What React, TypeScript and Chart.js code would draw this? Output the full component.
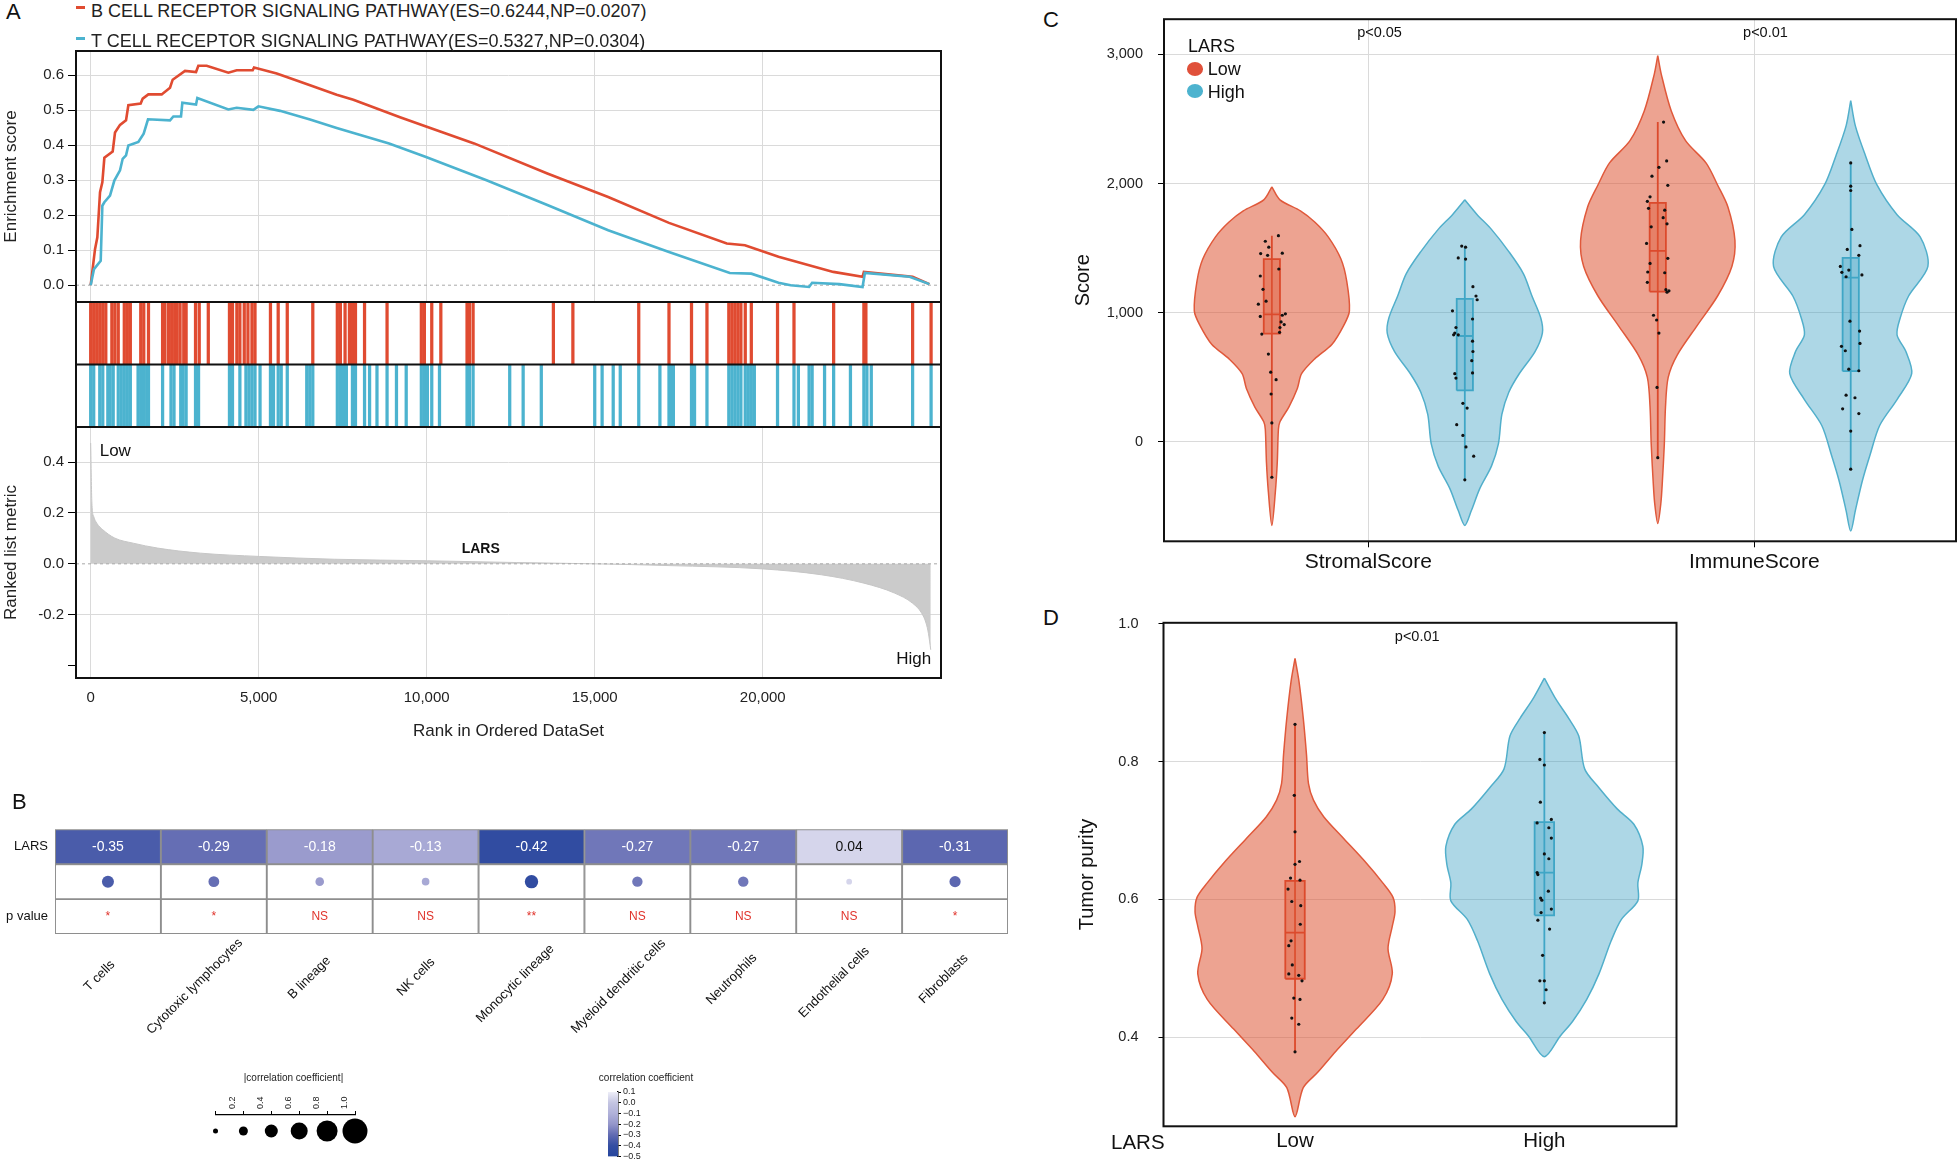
import React, { useEffect, useRef } from "react";
import { Chart, registerables } from "chart.js";

Chart.register(...registerables);

const FONT = "'Liberation Sans', Arial, Helvetica, sans-serif";
Chart.defaults.font.family = FONT;
Chart.defaults.color = "#222";

// ================= Panel A : GSEA =================
const bCellRank = [0, 129, 198, 278, 347, 407, 655, 724, 873, 1052, 1121, 1488, 1548, 1716, 2113, 2361, 2440, 2807, 3135, 3204, 3452, 4097, 4345, 4821, 4861, 5536, 5833, 6528, 7321, 7817, 9206, 9960, 11410, 13590, 15400, 17210, 18930, 19470, 20470, 22100, 22970, 23010, 23730, 24460, 24960];
const bCellES = [0, 0.103, 0.137, 0.266, 0.294, 0.364, 0.382, 0.436, 0.458, 0.471, 0.514, 0.519, 0.533, 0.545, 0.545, 0.564, 0.587, 0.612, 0.609, 0.627, 0.627, 0.607, 0.614, 0.614, 0.622, 0.605, 0.595, 0.571, 0.544, 0.53, 0.48, 0.454, 0.405, 0.319, 0.252, 0.178, 0.119, 0.114, 0.081, 0.038, 0.024, 0.038, 0.031, 0.024, 0.003];
const tCellRank = [0, 99, 298, 347, 407, 575, 704, 873, 952, 1052, 1121, 1419, 1577, 1706, 2361, 2460, 2688, 2728, 3135, 3174, 4097, 4345, 4841, 4990, 5635, 6528, 7321, 8880, 9960, 11780, 13590, 15400, 17210, 19020, 19660, 20470, 20830, 21380, 21470, 22280, 22970, 23040, 24370, 24960];
const tCellES = [0, 0.046, 0.07, 0.227, 0.237, 0.256, 0.299, 0.328, 0.361, 0.371, 0.399, 0.409, 0.433, 0.474, 0.471, 0.482, 0.482, 0.521, 0.516, 0.535, 0.502, 0.507, 0.501, 0.511, 0.498, 0.473, 0.449, 0.405, 0.367, 0.3, 0.229, 0.157, 0.095, 0.035, 0.033, 0.007, 0, -0.005, 0.007, 0.003, -0.005, 0.035, 0.024, 0.003];
const bCellHits = [0, 90, 180, 270, 360, 450, 630, 720, 820, 1000, 1090, 1180, 1490, 1580, 1720, 2140, 2210, 2320, 2410, 2500, 2570, 2660, 2770, 2840, 3120, 3230, 3500, 4130, 4220, 4350, 4440, 4570, 4680, 4800, 4890, 5350, 5580, 5850, 6610, 7340, 7430, 7570, 7700, 7790, 7880, 8150, 8820, 9840, 9930, 10150, 10420, 11200, 11270, 11380, 13770, 14350, 16310, 17210, 17880, 18340, 18990, 19080, 19170, 19260, 19350, 19480, 19660, 20440, 20930, 22110, 23010, 23070, 24460, 25010];
const tCellHits = [0, 90, 270, 360, 510, 580, 670, 820, 910, 1000, 1090, 1180, 1410, 1490, 1540, 1590, 1670, 1720, 2140, 2390, 2480, 2680, 2750, 2840, 3120, 3210, 4130, 4220, 4440, 4620, 4710, 4800, 4890, 5040, 5350, 5440, 5580, 5670, 5850, 6430, 6520, 6610, 7340, 7430, 7520, 7610, 7790, 7880, 8150, 8300, 8520, 8820, 9100, 9390, 9840, 9930, 10020, 10150, 10380, 11200, 11270, 11380, 12470, 12870, 13410, 15000, 15220, 15550, 15760, 16310, 16940, 17210, 17270, 17340, 17880, 17970, 18340, 18990, 19080, 19170, 19260, 19350, 19480, 19570, 19660, 19750, 20440, 20930, 21060, 21380, 21470, 21840, 22110, 22610, 23010, 23100, 23230, 24460, 25010];
const metricRank = [0, 36, 90, 180, 360, 720, 1270, 1990, 3260, 5020, 7250, 10020, 12680, 15000, 17210, 20000, 21740, 23010, 23920, 24460, 24730, 24860, 24930, 25000];
const metricValue = [0.475, 0.239, 0.186, 0.16, 0.134, 0.101, 0.081, 0.062, 0.042, 0.029, 0.018, 0.012, 0.005, 0, -0.007, -0.02, -0.043, -0.076, -0.115, -0.155, -0.194, -0.233, -0.273, -0.338];
const rankTicks = [0, 5000, 10000, 15000, 20000];
const esTicks = [0, 0.1, 0.2, 0.3, 0.4, 0.5, 0.6];
const metricTicks = [-0.4, -0.2, 0, 0.2, 0.4];

// ================= Panel B : correlation table =================
const cellTypes = ["T cells", "Cytotoxic lymphocytes", "B lineage", "NK cells", "Monocytic lineage", "Myeloid dendritic cells", "Neutrophils", "Endothelial cells", "Fibroblasts"];
const corrValues = [-0.35, -0.29, -0.18, -0.13, -0.42, -0.27, -0.27, 0.04, -0.31];
const pLabels = ["*", "*", "NS", "NS", "**", "NS", "NS", "NS", "*"];
const tableRows = ["p value", "", "LARS"];
const legendSizes = [0, 0.2, 0.4, 0.6, 0.8, 1.0];
const colorbarTicks = [-0.5, -0.4, -0.3, -0.2, -0.1, 0, 0.1];

// ================= Panel C : Stromal / Immune scores =================
const stromalLowY = [1974, 1874, 1788, 1702, 1587, 1415, 1244, 1014, 900, 756, 642, 527, 413, 269, 155, 97, -160, -390, -648];
const stromalLowW = [0, 0.021, 0.074, 0.111, 0.146, 0.179, 0.194, 0.201, 0.186, 0.156, 0.111, 0.077, 0.066, 0.044, 0.021, 0.017, 0.014, 0.009, 0];
const stromalHighY = [1874, 1759, 1645, 1473, 1301, 1129, 957, 842, 699, 527, 384, 212, -17, -189, -361, -533, -648];
const stromalHighW = [0, 0.032, 0.069, 0.114, 0.152, 0.174, 0.197, 0.201, 0.182, 0.141, 0.114, 0.096, 0.087, 0.069, 0.039, 0.017, 0];
const immuneLowY = [2991, 2848, 2562, 2332, 2160, 1989, 1817, 1559, 1358, 1129, 900, 670, 499, 269, -17, -304, -476, -633];
const immuneLowW = [0, 0.009, 0.035, 0.072, 0.125, 0.155, 0.182, 0.2, 0.192, 0.155, 0.102, 0.05, 0.027, 0.02, 0.017, 0.012, 0.008, 0];
const immuneHighY = [2642, 2447, 2218, 1989, 1759, 1587, 1358, 1129, 957, 828, 699, 527, 327, 126, -103, -304, -533, -691];
const immuneHighW = [0, 0.012, 0.038, 0.068, 0.12, 0.18, 0.2, 0.15, 0.128, 0.12, 0.143, 0.158, 0.12, 0.075, 0.05, 0.03, 0.012, 0];
// box stats: [lower whisker, Q1, median, Q3, upper whisker]
const stromalLowBox = [-275, 837, 986, 1415, 1596];
const stromalHighBox = [-295, 398, 819, 1106, 1516];
const immuneLowBox = [-123, 1163, 1479, 1851, 2476];
const immuneHighBox = [-212, 547, 1272, 1424, 2169];
const stromalLowJit = [0.017, -0.017, -0.008, -0.029, -0.011, 0.027, 0.018, -0.03, -0.023, -0.015, -0.035, -0.03, 0.027, 0.035, 0.024, 0.021, 0.032, -0.026, 0.02, -0.009, -0.003, 0.011, -0.002, 0, 0];
const stromalLowPts = [1596, 1553, 1507, 1458, 1444, 1461, 1338, 1284, 1181, 1089, 1066, 971, 980, 991, 928, 885, 908, 834, 848, 679, 539, 481, 370, 146, -275];
const stromalHighJit = [-0.008, 0.002, -0.017, 0.002, 0.021, 0.029, 0.032, -0.032, -0.023, -0.026, -0.029, -0.017, 0.02, 0.02, 0.021, 0.018, 0.02, -0.026, -0.023, -0.005, 0.006, -0.021, -0.005, 0.003, 0.023, 0];
const stromalHighPts = [1516, 1507, 1424, 1415, 1201, 1129, 1100, 1014, 885, 842, 828, 828, 951, 779, 699, 628, 533, 527, 493, 298, 261, 132, 49, -40, -112, -295];
const immuneLowJit = [0.015, 0.023, 0.003, -0.015, 0.026, -0.02, -0.027, -0.024, 0.018, 0.014, 0.024, -0.017, -0.029, 0.026, -0.02, -0.026, 0.018, -0.027, 0.021, 0.024, 0.029, -0.011, -0.003, 0.003, -0.002, 0];
const immuneLowPts = [2476, 2175, 2126, 2057, 1986, 1897, 1862, 1808, 1794, 1736, 1688, 1665, 1536, 1421, 1381, 1315, 1309, 1235, 1178, 1158, 1169, 980, 943, 842, 421, -123];
const immuneHighJit = [0, 0, 0, 0.003, 0.024, -0.009, 0.021, -0.027, -0.023, -0.005, -0.012, 0.029, -0.002, 0.023, 0.024, -0.024, -0.014, -0.005, 0.021, -0.012, 0.011, -0.021, 0.021, 0, 0];
const immuneHighPts = [2160, 1980, 1946, 1645, 1519, 1490, 1444, 1358, 1312, 1330, 1278, 1292, 934, 857, 762, 739, 705, 562, 550, 361, 341, 255, 218, 83, -212];
const scoreTicks = [0, 1000, 2000, 3000];

// ================= Panel D : Tumor purity =================
const purityLowY = [0.9496, 0.916, 0.863, 0.81, 0.768, 0.744, 0.72, 0.688, 0.656, 0.624, 0.603, 0.582, 0.561, 0.529, 0.492, 0.455, 0.412, 0.38, 0.349, 0.327, 0.285];
const purityLowW = [0, 0.016, 0.033, 0.046, 0.054, 0.074, 0.115, 0.196, 0.278, 0.352, 0.393, 0.401, 0.39, 0.373, 0.39, 0.352, 0.246, 0.164, 0.09, 0.033, 0];
const purityHighY = [0.921, 0.89, 0.863, 0.837, 0.789, 0.762, 0.731, 0.709, 0.677, 0.651, 0.624, 0.598, 0.571, 0.54, 0.492, 0.455, 0.423, 0.402, 0.372];
const purityHighW = [0, 0.047, 0.097, 0.138, 0.162, 0.219, 0.293, 0.359, 0.395, 0.391, 0.375, 0.375, 0.309, 0.268, 0.219, 0.17, 0.113, 0.064, 0];
const purityLowBox = [0.379, 0.485, 0.552, 0.627, 0.854];
const purityHighBox = [0.45, 0.577, 0.639, 0.712, 0.843];
const purityLowJit = [0, -0.003, 0, 0, 0.018, -0.018, 0.02, -0.028, -0.013, 0.023, 0.021, -0.016, -0.025, -0.011, -0.025, 0.015, 0.028, -0.005, 0.02, -0.013, 0.015, 0];
const purityLowPts = [0.854, 0.751, 0.698, 0.651, 0.655, 0.631, 0.628, 0.615, 0.597, 0.591, 0.564, 0.54, 0.533, 0.505, 0.492, 0.49, 0.482, 0.457, 0.455, 0.428, 0.419, 0.379];
const purityHighJit = [0, -0.018, 0, -0.016, 0.028, -0.029, 0.018, 0.028, 0, 0.018, -0.029, -0.026, 0.016, -0.015, -0.01, 0.028, -0.013, -0.026, 0.021, -0.007, -0.018, 0, 0.007, 0];
const purityHighPts = [0.842, 0.803, 0.795, 0.741, 0.716, 0.711, 0.704, 0.689, 0.666, 0.659, 0.639, 0.636, 0.612, 0.602, 0.599, 0.586, 0.581, 0.57, 0.557, 0.519, 0.482, 0.482, 0.469, 0.45];
const purityTicks = [0.4, 0.6, 0.8, 1.0];

// ================= styles =================
const RED = "#e04b31";
const BLUE = "#4cb3cf";
const GRID = "#dadada";
const RANK_MIN = -437;
const RANK_MAX = 25305;
const LOW_STYLE = { line: "#e0593b", fill: "rgba(222,88,55,0.55)", boxFill: "rgba(222,88,55,0.45)", boxLine: "#dc4a2c" };
const HIGH_STYLE = { line: "#52afcb", fill: "rgba(60,160,195,0.42)", boxFill: "rgba(60,160,195,0.35)", boxLine: "#3fa6c6" };
const corrStops: [number, number[]][] = [
  [0.1, [238, 238, 248]],
  [0, [196, 197, 226]],
  [-0.1, [176, 177, 217]],
  [-0.2, [148, 150, 202]],
  [-0.3, [96, 106, 178]],
  [-0.4, [52, 78, 162]],
  [-0.5, [38, 70, 158]],
];

function rgb(c: number[]) {
  return `rgb(${Math.round(c[0])},${Math.round(c[1])},${Math.round(c[2])})`;
}
function corrColor(v: number) {
  for (let i = 0; i < corrStops.length - 1; i++) {
    const [a, ca] = corrStops[i];
    const [b, cb] = corrStops[i + 1];
    if (v <= a && v >= b) {
      const t = (a - v) / (a - b);
      return rgb(ca.map((c, k) => c + (cb[k] - c) * t));
    }
  }
  return v > 0.1 ? rgb(corrStops[0][1]) : rgb(corrStops[corrStops.length - 1][1]);
}

const font = (size: number, weight = "normal") => `${weight} ${size}px ${FONT}`;
const pts = (xs: number[], ys: number[]) => xs.map((x, i) => ({ x, y: ys[i] }));
const fixTicks = (values: number[]) => (axis: any) => {
  axis.ticks = values.map((v) => ({ value: v }));
};
const fixWidth = (w: number) => (axis: any) => {
  axis.width = w;
};
const fixHeight = (h: number) => (axis: any) => {
  axis.height = h;
};
const baseOptions: any = { responsive: false, maintainAspectRatio: false, animation: false, events: [] };
const noLegend = { legend: { display: false }, tooltip: { enabled: false } };

// ================= plugins =================
const framePlugin = {
  id: "frame",
  afterDatasetsDraw(chart: any, _args: any, opts: any) {
    const { ctx, chartArea: a } = chart;
    ctx.save();
    ctx.strokeStyle = "#111";
    ctx.lineWidth = opts.width || 2;
    ctx.strokeRect(a.left, a.top, a.right - a.left, a.bottom - a.top);
    (opts.hLines || []).forEach((v: number) => {
      const y = chart.scales.y.getPixelForValue(v);
      ctx.beginPath();
      ctx.moveTo(a.left, y);
      ctx.lineTo(a.right, y);
      ctx.stroke();
    });
    ctx.restore();
  },
};

const textPlugin = {
  id: "texts",
  afterDatasetsDraw(chart: any, _args: any, opts: any) {
    const ctx = chart.ctx;
    (opts.items || []).forEach((it: any) => {
      const x = chart.scales.x.getPixelForValue(it.x);
      const y = chart.scales.y.getPixelForValue(it.y);
      ctx.save();
      ctx.font = it.font;
      ctx.fillStyle = it.color || "#111";
      ctx.textAlign = it.align || "center";
      ctx.textBaseline = "middle";
      ctx.fillText(it.text, x, y);
      ctx.restore();
    });
  },
};

const rotLabelPlugin = {
  id: "rotLabels",
  afterDraw(chart: any, _args: any, opts: any) {
    const { ctx, chartArea } = chart;
    const xs = chart.scales.x;
    (chart.data.labels || []).forEach((t: string, i: number) => {
      const x = xs.getPixelForValue(i) + opts.dx;
      const y = chartArea.bottom + opts.dy;
      ctx.save();
      ctx.font = opts.font;
      ctx.fillStyle = "#111";
      const w = ctx.measureText(t).width;
      ctx.translate(x, y);
      ctx.rotate((-opts.angle * Math.PI) / 180);
      ctx.textAlign = "left";
      ctx.textBaseline = "middle";
      ctx.fillText(t, -opts.frac * w, 0);
      ctx.restore();
    });
  },
};

// ================= chart configs =================
// ES plot: canvas top 30 -> chart area 51..302 (page px)
function esConfig(): any {
  const W = 960, H = 287;
  return {
    type: "line",
    data: {
      datasets: [
        { data: pts(tCellRank, tCellES), borderColor: BLUE, borderWidth: 2.6, pointRadius: 0, tension: 0, fill: false, order: 1 },
        { data: pts(bCellRank, bCellES), borderColor: RED, borderWidth: 2.6, pointRadius: 0, tension: 0, fill: false, order: 2 },
        { data: pts([RANK_MIN, RANK_MAX], [0, 0]), borderColor: "#aaaaaa", borderWidth: 1, borderDash: [3, 3], pointRadius: 0, fill: false, order: 3 },
      ],
    },
    options: {
      ...baseOptions,
      layout: { padding: { top: 21, right: W - 941, left: 0, bottom: 0 } },
      plugins: { ...noLegend, frame: { width: 2 } },
      scales: {
        x: {
          type: "linear", min: RANK_MIN, max: RANK_MAX,
          afterBuildTicks: fixTicks(rankTicks), afterFit: fixHeight(H - 272),
          ticks: { display: false }, grid: { color: GRID, drawTicks: false }, border: { display: false },
        },
        y: {
          type: "linear", min: -0.048, max: 0.669,
          afterBuildTicks: fixTicks(esTicks), afterFit: fixWidth(76),
          ticks: { callback: (v: any) => Number(v).toFixed(1), font: { size: 15 }, padding: 4, color: "#222" },
          grid: { color: (c: any) => (c.tick && Math.abs(c.tick.value) < 1e-9 ? "rgba(0,0,0,0)" : GRID), tickColor: "#000", tickLength: 8 },
          border: { display: false },
          title: { display: true, text: "Enrichment score", font: { size: 17 }, color: "#222", padding: { top: 1, bottom: 0 } },
        },
      },
    },
    plugins: [framePlugin],
  };
}

// rug: canvas top 295 -> chart area 302..427
function rugConfig(): any {
  const W = 960, H = 140;
  return {
    type: "bar",
    data: {
      datasets: [
        { data: bCellHits.map((r) => ({ x: r, y: [1, 2] })), backgroundColor: RED, barThickness: 2.6, grouped: false, borderWidth: 0 },
        { data: tCellHits.map((r) => ({ x: r, y: [0, 1] })), backgroundColor: BLUE, barThickness: 2.6, grouped: false, borderWidth: 0 },
      ],
    },
    options: {
      ...baseOptions,
      layout: { padding: { top: 7, bottom: H - 132, left: 76, right: W - 941 } },
      plugins: { ...noLegend, frame: { width: 2, hLines: [1] } },
      scales: {
        x: { type: "linear", min: RANK_MIN, max: RANK_MAX, offset: false, display: false, grid: { offset: false } },
        y: { type: "linear", min: 0, max: 2, display: false },
      },
    },
    plugins: [framePlugin],
  };
}

// metric: canvas top 410 -> chart area 427..678
function metricConfig(): any {
  const W = 960, H = 340;
  return {
    type: "line",
    data: {
      datasets: [
        { data: pts([RANK_MIN, RANK_MAX], [0, 0]), borderColor: "#a8a8a8", borderWidth: 1, borderDash: [3, 3], pointRadius: 0, fill: false, order: 1 },
        { data: pts(metricRank, metricValue), borderColor: "#c6c6c6", borderWidth: 1, backgroundColor: "#cbcbcb", fill: "origin", pointRadius: 0, cubicInterpolationMode: "monotone", order: 2 },
      ],
    },
    options: {
      ...baseOptions,
      layout: { padding: { top: 17, right: W - 941, left: 0, bottom: 0 } },
      plugins: {
        ...noLegend,
        frame: { width: 2 },
        texts: {
          items: [
            { x: 268, y: 0.441, text: "Low", font: font(17), align: "left" },
            { x: 11607, y: 0.059, text: "LARS", font: font(14, "bold") },
            { x: 25015, y: -0.374, text: "High", font: font(17), align: "right" },
          ],
        },
      },
      scales: {
        x: {
          type: "linear", min: RANK_MIN, max: RANK_MAX,
          afterBuildTicks: fixTicks(rankTicks), afterFit: fixHeight(H - 268),
          ticks: { callback: (v: any) => Number(v).toLocaleString("en-US"), font: { size: 15 }, padding: 11, color: "#222", maxRotation: 0 },
          grid: { color: GRID, drawTicks: false }, border: { display: false },
          title: { display: true, text: "Rank in Ordered DataSet", font: { size: 17 }, color: "#222", padding: { top: 0, bottom: 8 } },
        },
        y: {
          type: "linear", min: -0.449, max: 0.538,
          afterBuildTicks: fixTicks(metricTicks), afterFit: fixWidth(76),
          ticks: { callback: (v: any) => (v < -0.3 ? "" : Number(v).toFixed(1)), font: { size: 15 }, padding: 4, color: "#222" },
          grid: { color: (c: any) => (c.tick && (Math.abs(c.tick.value) < 1e-9 || c.tick.value < -0.3) ? "rgba(0,0,0,0)" : GRID), tickColor: "#000", tickLength: 8 },
          border: { display: false },
          title: { display: true, text: "Ranked list metric", font: { size: 17 }, color: "#222", padding: { top: 1, bottom: 0 } },
        },
      },
    },
    plugins: [framePlugin, textPlugin],
  };
}

function tableConfig(): any {
  const W = 1030, H = 262;
  const common = { borderColor: "#8e8e8e", borderWidth: 1.3, borderSkipped: false, grouped: false, categoryPercentage: 1, barPercentage: 1, order: 2 };
  return {
    type: "bar",
    data: {
      labels: cellTypes,
      datasets: [
        { ...common, data: corrValues.map(() => [2, 3]), backgroundColor: corrValues.map(corrColor) },
        { ...common, data: corrValues.map(() => [1, 2]), backgroundColor: "#ffffff" },
        { ...common, data: corrValues.map(() => [0, 1]), backgroundColor: "#ffffff" },
        {
          type: "scatter",
          data: cellTypes.map((c) => ({ x: c, y: 1.5 })),
          pointRadius: corrValues.map((v) => 2.5 + 10 * Math.abs(v)),
          backgroundColor: corrValues.map(corrColor),
          borderWidth: 0,
          order: 1,
        },
      ],
    },
    options: {
      ...baseOptions,
      layout: { padding: { top: 29.3, right: W - 1008, left: 0, bottom: H - 134 } },
      plugins: {
        ...noLegend,
        texts: {
          items: [
            ...corrValues.map((v, i) => ({ x: i, y: 2.5, text: v.toFixed(2), font: font(14), color: v > -0.05 ? "#111" : "#ffffff" })),
            ...pLabels.map((p, i) => ({ x: i, y: 0.5, text: p, font: font(12), color: "#e0332b" })),
          ],
        },
        rotLabels: { font: font(13), angle: 45, dx: -4, dy: 37.5, frac: 0.665 },
      },
      scales: {
        x: { type: "category", display: false, offset: true },
        y: {
          type: "linear", min: 0, max: 3,
          afterBuildTicks: fixTicks([0.5, 1.5, 2.5]), afterFit: fixWidth(55),
          ticks: { callback: (v: any) => tableRows[Math.floor(v)], font: { size: 13 }, color: "#111", padding: 7 },
          grid: { display: false, drawTicks: false }, border: { display: false },
        },
      },
    },
    plugins: [textPlugin, rotLabelPlugin],
  };
}

function sizeLegendConfig(): any {
  return {
    type: "scatter",
    data: {
      datasets: [
        {
          data: legendSizes.map((v) => ({ x: v, y: 0.5 })),
          pointRadius: legendSizes.map((v) => 2.5 + 10 * v),
          backgroundColor: "#000",
          borderWidth: 0,
          clip: false,
        },
      ],
    },
    options: {
      ...baseOptions,
      layout: { padding: { top: 4, left: 25.5, right: 35, bottom: 13 } },
      plugins: { ...noLegend },
      scales: {
        x: {
          type: "linear", position: "top", min: 0, max: 1,
          afterBuildTicks: fixTicks(legendSizes), afterFit: fixHeight(31),
          ticks: { callback: (v: any) => (v === 0 ? "" : Number(v).toFixed(1)), minRotation: 90, maxRotation: 90, font: { size: 9 }, padding: 2, color: "#222", autoSkip: false },
          grid: { drawOnChartArea: false, tickLength: 4, tickColor: "#000", color: "#000" },
          border: { display: true, color: "#000", width: 1.2 },
        },
        y: { type: "linear", min: 0, max: 1, display: false },
      },
    },
  };
}

// colorbar: canvas top 1084 -> bar 1092..1156.5
function colorbarConfig(): any {
  const W = 150;
  return {
    type: "bar",
    data: {
      labels: [""],
      datasets: [
        {
          data: [[-0.5, 0.1]],
          backgroundColor: (c: any) => {
            const chart = c.chart;
            if (!chart.chartArea) return "#aaaaaa";
            const y = chart.scales.y;
            const top = y.getPixelForValue(0.1);
            const bot = y.getPixelForValue(-0.5);
            const g = chart.ctx.createLinearGradient(0, top, 0, bot);
            corrStops.forEach(([v, col]) => g.addColorStop((y.getPixelForValue(v) - top) / (bot - top), rgb(col)));
            return g;
          },
          borderWidth: 0,
          barPercentage: 1,
          categoryPercentage: 1,
        },
      ],
    },
    options: {
      ...baseOptions,
      layout: { padding: { top: 8, left: 38, right: 0, bottom: 8.5 } },
      plugins: { ...noLegend },
      scales: {
        x: { type: "category", display: false },
        y: {
          type: "linear", position: "right", min: -0.5, max: 0.1,
          afterBuildTicks: fixTicks(colorbarTicks), afterFit: fixWidth(W - 48),
          ticks: { callback: (v: any) => (Math.abs(v) < 1e-9 ? "0.0" : Number(v).toFixed(1).replace("-", "\u2212")), font: { size: 9 }, padding: 2, color: "#222", autoSkip: false },
          grid: { drawOnChartArea: false, tickLength: 3, tickColor: "#000", color: "#000" },
          border: { display: true, color: "#000", width: 1.5 },
        },
      },
    },
  };
}

function violinDatasets(cx: number, ys: number[], ws: number[], box: number[], jit: number[], vals: number[], s: any, hw: number) {
  const right = ys.map((y, i) => ({ x: cx + ws[i], y }));
  const left = ys.map((y, i) => ({ x: cx - ws[i], y })).reverse().slice(1);
  return [
    { type: "line", data: right.concat(left), borderColor: s.line, borderWidth: 1.5, backgroundColor: s.fill, fill: "shape", pointRadius: 0, tension: 0.3, order: 5 },
    { type: "line", data: [{ x: cx, y: box[0] }, { x: cx, y: box[4] }], borderColor: s.boxLine, borderWidth: 1.8, pointRadius: 0, fill: false, order: 4 },
    {
      type: "line",
      data: [{ x: cx - hw, y: box[1] }, { x: cx + hw, y: box[1] }, { x: cx + hw, y: box[3] }, { x: cx - hw, y: box[3] }, { x: cx - hw, y: box[1] }],
      borderColor: s.boxLine, borderWidth: 1.8, backgroundColor: s.boxFill, fill: "shape", pointRadius: 0, tension: 0, order: 3,
    },
    { type: "line", data: [{ x: cx - hw, y: box[2] }, { x: cx + hw, y: box[2] }], borderColor: s.boxLine, borderWidth: 1.8, pointRadius: 0, fill: false, order: 2 },
    { type: "scatter", data: jit.map((j, i) => ({ x: cx + j, y: vals[i] })), pointRadius: 1.6, backgroundColor: "#111", borderWidth: 0, order: 1 },
  ];
}

// score plot: canvas top -10 -> chart area 19.2..541.3
function scoreConfig(): any {
  const W = 895, H = 600;
  const datasets = [
    ...violinDatasets(0.75, stromalLowY, stromalLowW, stromalLowBox, stromalLowJit, stromalLowPts, LOW_STYLE, 0.021),
    ...violinDatasets(1.25, stromalHighY, stromalHighW, stromalHighBox, stromalHighJit, stromalHighPts, HIGH_STYLE, 0.021),
    ...violinDatasets(1.75, immuneLowY, immuneLowW, immuneLowBox, immuneLowJit, immuneLowPts, LOW_STYLE, 0.021),
    ...violinDatasets(2.25, immuneHighY, immuneHighW, immuneHighBox, immuneHighJit, immuneHighPts, HIGH_STYLE, 0.021),
  ];
  return {
    type: "line",
    data: { datasets },
    options: {
      ...baseOptions,
      layout: { padding: { top: 29.2, right: W - 892, left: 0, bottom: 0 } },
      plugins: {
        ...noLegend,
        frame: { width: 2 },
        texts: {
          items: [
            { x: 1.029, y: 3163, text: "p<0.05", font: font(14.5) },
            { x: 2.029, y: 3163, text: "p<0.01", font: font(14.5) },
          ],
        },
      },
      scales: {
        x: {
          type: "linear", min: 0.4705, max: 2.5228,
          afterBuildTicks: fixTicks([1, 2]), afterFit: fixHeight(H - 551.3),
          ticks: { callback: (v: any) => (v === 1 ? "StromalScore" : "ImmuneScore"), font: { size: 21 }, color: "#111", padding: 2, maxRotation: 0 },
          grid: { color: GRID, tickColor: "#000", tickLength: 6 }, border: { display: false },
        },
        y: {
          type: "linear", min: -771, max: 3273,
          afterBuildTicks: fixTicks(scoreTicks), afterFit: fixWidth(99),
          ticks: { callback: (v: any) => Number(v).toLocaleString("en-US"), font: { size: 14.5 }, color: "#222", padding: 15 },
          grid: { color: GRID, tickColor: "#000", tickLength: 6 }, border: { display: false },
          title: { display: true, text: "Score", font: { size: 20 }, color: "#111", padding: { top: 6.7, bottom: 0 } },
        },
      },
    },
    plugins: [framePlugin, textPlugin],
  };
}

// purity plot: canvas top 590 -> chart area 622.8..1126.3
function purityConfig(): any {
  const W = 640, H = 572;
  const datasets = [
    ...violinDatasets(1, purityLowY, purityLowW, purityLowBox, purityLowJit, purityLowPts, LOW_STYLE, 0.039),
    ...violinDatasets(2, purityHighY, purityHighW, purityHighBox, purityHighJit, purityHighPts, HIGH_STYLE, 0.039),
  ];
  return {
    type: "line",
    data: { datasets },
    options: {
      ...baseOptions,
      layout: { padding: { top: 32.8, right: W - 611.5, left: 0, bottom: 0 } },
      plugins: {
        ...noLegend,
        frame: { width: 2 },
        texts: {
          items: [
            { x: 1.49, y: 0.981, text: "p<0.01", font: font(14.5) },
            { x: 0.3694, y: 0.247, text: "LARS", font: font(20.5) },
          ],
        },
      },
      scales: {
        x: {
          type: "linear", min: 0.4725, max: 2.53,
          afterBuildTicks: fixTicks([1, 2]), afterFit: fixHeight(H - 536.3),
          ticks: { callback: (v: any) => (v === 1 ? "Low" : "High"), font: { size: 20.5 }, color: "#111", padding: 3, maxRotation: 0 },
          grid: { display: false, drawTicks: false }, border: { display: false },
        },
        y: {
          type: "linear", min: 0.271, max: 1.0012,
          afterBuildTicks: fixTicks(purityTicks), afterFit: fixWidth(98.5),
          ticks: { callback: (v: any) => Number(v).toFixed(1), font: { size: 14.5 }, color: "#222", padding: 20 },
          grid: { color: (c: any) => (c.tick && c.tick.value > 0.95 ? "rgba(0,0,0,0)" : GRID), tickColor: "#000", tickLength: 5 },
          border: { display: false },
          title: { display: true, text: "Tumor purity", font: { size: 20 }, color: "#111", padding: { top: 10.5, bottom: 0 } },
        },
      },
    },
    plugins: [framePlugin, textPlugin],
  };
}

// ================= components =================
function ChartBox({ left, top, width, height, make }: any) {
  const ref = useRef<HTMLCanvasElement | null>(null);
  useEffect(() => {
    if (!ref.current) return;
    const chart = new Chart(ref.current, make());
    return () => chart.destroy();
  }, []);
  return (
    <canvas
      ref={ref}
      width={width}
      height={height}
      style={{ position: "absolute", left, top, width, height, display: "block" }}
    />
  );
}

function Txt({ x, y, size, children, color = "#111", weight = 400, anchor = "left" }: any) {
  const style: any = {
    position: "absolute",
    top: y - 0.4885 * size,
    left: x,
    fontSize: size,
    lineHeight: `${size}px`,
    whiteSpace: "nowrap",
    color,
    fontWeight: weight,
    fontFamily: FONT,
  };
  if (anchor === "center") style.transform = "translateX(-50%)";
  return <div style={style}>{children}</div>;
}

function Swatch({ left, top, width, height, color, round }: any) {
  return (
    <div
      style={{ position: "absolute", left, top, width, height, background: color, borderRadius: round ? "50%" : 0 }}
    />
  );
}

export default function App() {
  return (
    <div
      style={{
        position: "fixed",
        left: 0,
        top: 0,
        width: 1960,
        height: 1162,
        background: "#ffffff",
        overflow: "hidden",
        fontFamily: FONT,
      }}
    >
      <ChartBox left={0} top={30} width={960} height={287} make={esConfig} />
      <ChartBox left={0} top={295} width={960} height={140} make={rugConfig} />
      <ChartBox left={0} top={410} width={960} height={340} make={metricConfig} />
      <ChartBox left={0} top={800} width={1030} height={262} make={tableConfig} />
      <ChartBox left={190} top={1080} width={200} height={80} make={sizeLegendConfig} />
      <ChartBox left={570} top={1084} width={150} height={81} make={colorbarConfig} />
      <ChartBox left={1065} top={-10} width={895} height={600} make={scoreConfig} />
      <ChartBox left={1065} top={590} width={640} height={572} make={purityConfig} />

      {/* panel letters */}
      <Txt x={6} y={12} size={22}>A</Txt>
      <Txt x={12} y={801.5} size={22}>B</Txt>
      <Txt x={1043} y={19.5} size={22}>C</Txt>
      <Txt x={1043} y={618} size={22}>D</Txt>

      {/* panel A legend */}
      <Swatch left={76} top={5.5} width={9} height={3.5} color={RED} />
      <Txt x={91} y={10.3} size={18} color="#222">B CELL RECEPTOR SIGNALING PATHWAY(ES=0.6244,NP=0.0207)</Txt>
      <Swatch left={76} top={36.5} width={9} height={3.5} color={BLUE} />
      <Txt x={91} y={41} size={18} color="#222">T CELL RECEPTOR SIGNALING PATHWAY(ES=0.5327,NP=0.0304)</Txt>

      {/* panel B legend titles */}
      <Txt x={293.5} y={1078} size={10} anchor="center" color="#222">|correlation coefficient|</Txt>
      <Txt x={646} y={1078} size={10} anchor="center" color="#222">correlation coefficient</Txt>

      {/* panel C legend */}
      <Txt x={1188} y={46} size={18} color="#111">LARS</Txt>
      <Swatch left={1186.7} top={61.7} width={16.6} height={14} color="#e0503a" round />
      <Txt x={1207.7} y={68.7} size={18} color="#111">Low</Txt>
      <Swatch left={1186.7} top={84.3} width={16.6} height={14} color="#4db3cf" round />
      <Txt x={1207.7} y={91.3} size={18} color="#111">High</Txt>
    </div>
  );
}
